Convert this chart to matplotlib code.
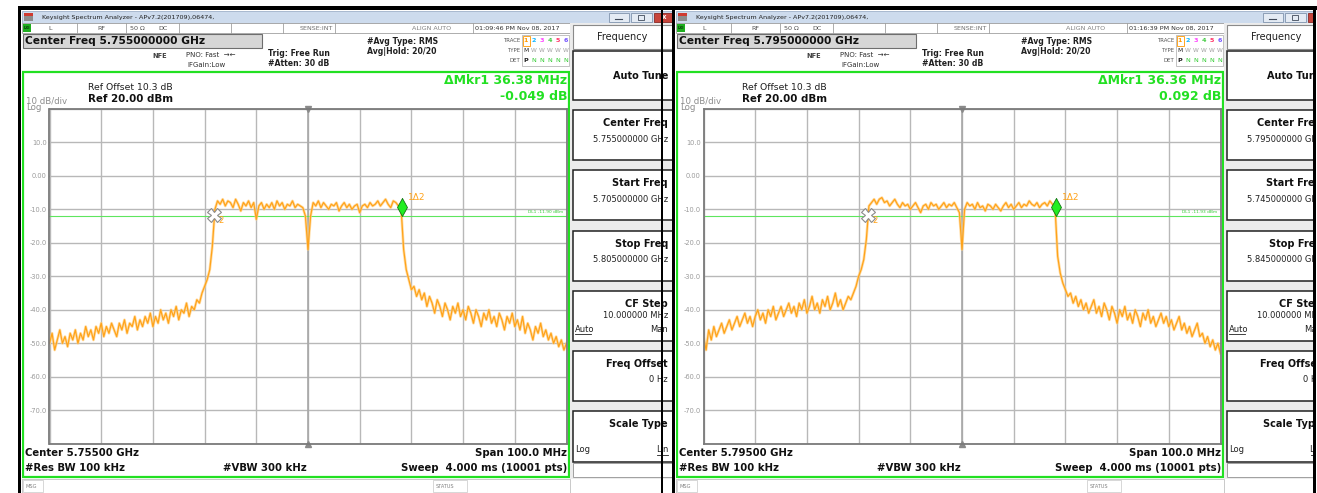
import numpy as np
import matplotlib
matplotlib.use("Agg")
import matplotlib.pyplot as plt
from matplotlib.patches import Rectangle
from matplotlib.ticker import FuncFormatter

W, H = 1317, 493
plt.rcParams['font.family'] = ['DejaVu Sans']

# ---- values ----
center_ghz = [5.755, 5.795]
start_ghz = [5.705, 5.745]
stop_ghz = [5.805, 5.845]
clock = ["01:09:46 PM Nov 08, 2017", "01:16:39 PM Nov 08, 2017"]
mkr_delta_mhz = [36.38, 36.36]
mkr_delta_db = [-0.049, 0.092]
mkr2_mhz = [-18.2, -18.2]      # reference marker, offset from center
mkr2_level = [-11.6, -11.6]
mkr1_level = [-9.2, -9.2]
dl1_dbm = [-11.90, -11.93]
y_ticks = [20, 10, 0, -10, -20, -30, -40, -50, -60, -70, -80]

# trace in dBm, -50 MHz .. +50 MHz from center, 0.5 MHz steps
trace_a = [
    -50, -47, -52, -49, -46, -50, -48, -51, -47, -49,
    -46, -50, -47, -49, -45, -48, -46, -49, -45, -47,
    -44, -48, -45, -47, -44, -46, -48, -44, -46, -43,
    -47, -44, -45, -42, -46, -43, -45, -42, -44, -41,
    -45, -42, -44, -40, -43, -41, -44, -40, -42, -39,
    -43, -40, -41, -38, -42, -39, -40, -37, -38, -35,
    -33, -31, -28, -21, -10, -7.5, -8.5, -7, -9, -7.5,
    -8, -9.5, -7, -8.5, -10.5, -8, -9, -7.5, -9.5, -8,
    -13, -9, -8, -10, -8.5, -9.5, -8, -10, -7.5, -9,
    -8, -10, -8.5, -9, -7.5, -9.5, -8.5, -9, -9.5, -12,
    -22, -12, -8, -9, -7.5, -9.5, -8, -9, -10, -8.5,
    -9, -8, -10.5, -9, -8, -9.5, -8.5, -10, -9, -8.5,
    -11, -9, -8.5, -9.5, -8, -9, -8.5, -7.5, -9, -8,
    -7, -8.5, -9.5, -7.5, -8, -9, -9.5, -22, -28, -31,
    -34, -33, -36, -34, -37, -35, -39, -36, -38, -41,
    -37, -39, -42, -38, -40, -43, -39, -41, -38, -42,
    -40, -43, -39, -41, -44, -40, -42, -45, -41, -43,
    -40, -44, -42, -45, -41, -43, -46, -42, -44, -41,
    -45, -43, -46, -42, -47, -44, -46, -49, -45, -47,
    -44, -48, -46, -49, -47, -50, -48, -51, -49, -52,
    -50,
]
trace_b = [
    -48, -52, -46, -49, -45, -48, -46, -44, -47, -45,
    -43, -46, -44, -42, -45, -43, -41, -44, -42, -45,
    -42, -40, -43, -41, -44, -40, -42, -39, -43, -41,
    -39, -42, -40, -38, -41, -39, -42, -38, -40, -37,
    -41, -39, -36, -40, -38, -41, -37, -39, -36, -40,
    -38, -35, -39, -37, -40, -38, -36, -37, -35, -33,
    -30, -28, -25, -19, -9, -8, -7, -8.5, -7, -6.5,
    -8, -7.5, -9, -8, -7, -8.5, -9.5, -8, -9, -8.5,
    -10, -9, -8, -9.5, -11, -9, -8.5, -10, -8, -9,
    -8.5, -10, -9, -8, -9.5, -8.5, -9, -8, -9.5, -11,
    -22, -10, -8, -9, -8.5, -10, -8, -9.5, -9, -10.5,
    -8.5, -9, -10, -8.5, -9.5, -10.5, -9, -8, -9.5, -8.5,
    -10, -9, -8, -9.5, -8.5, -9, -7.5, -8.5, -9, -8,
    -9.5, -8.5, -8, -9, -7.5, -8.5, -9.5, -24, -29, -32,
    -34, -36, -35, -38, -36, -39, -37, -40, -38, -41,
    -39, -37, -41, -39, -42, -38, -40, -43, -39, -41,
    -44, -40, -42, -39, -43, -41, -44, -40, -42, -45,
    -41, -43, -40, -44, -42, -45, -43, -41, -44, -42,
    -45, -43, -46, -44, -42, -46, -44, -47, -45, -48,
    -46, -44, -48, -47, -50, -48, -51, -49, -52, -50,
    -53,
]
traces = [trace_a, trace_b]

win_x = [0, 654]          # second screenshot is shifted right
clip_right = [672, 1313]  # where each screenshot is cut off

GREEN = '#22e022'
ORANGE = '#ffa31a'

fig = plt.figure(figsize=(W / 100, H / 100), dpi=100)
fig.patch.set_facecolor('white')


def chrome(i):
    o = win_x[i]
    left, right = 22 + o, clip_right[i]
    ax = fig.add_axes([left / W, 0, (right - left) / W, 1])
    ax.set_xlim(left, right)
    ax.set_ylim(H, 0)
    ax.axis('off')

    def box(x, y, w, h, fc='white', ec='none', lw=0.8):
        ax.add_patch(Rectangle((x + o, y), w, h, fc=fc, ec=ec, lw=lw))

    def txt(x, y, s, size=5, bold=False, color='#202020', ha='left'):
        ax.text(x + o, y, s, fontsize=size, fontweight='bold' if bold else 'normal',
                color=color, ha=ha, va='center', clip_on=True)

    def hline(x0, x1, y, color='#202020', lw=0.6):
        ax.plot([x0 + o, x1 + o], [y, y], color=color, lw=lw)

    # title bar
    box(22, 11, 700, 12, fc='#cddbed', ec='#9fb1c9', lw=0.6)
    box(24, 13, 9, 8, fc='#8c8c8c')
    box(24, 13, 9, 2.5, fc='#d03a30')
    txt(42, 17.2, "Keysight Spectrum Analyzer - APv7.2(201709),06474,", 4.6)
    box(609, 13, 20, 8.5, fc='#e4ebf4', ec='#8093ad', lw=0.6)
    hline(615, 622, 18.5, color='#404a5a', lw=0.8)
    box(631, 13, 21, 8.5, fc='#e4ebf4', ec='#8093ad', lw=0.6)
    box(638, 15, 6, 4.5, fc='none', ec='#404a5a', lw=0.6)
    box(654, 13, 30, 8.5, fc='#c8453c', ec='#8a2a24', lw=0.6)
    txt(664, 17, "x", 5, True, 'white', 'center')

    # status row
    box(22, 23, 548, 10, fc='white', ec='#a0a0a0', lw=0.6)
    box(22.5, 24, 8, 8, fc='#1fae1f')
    txt(26.5, 28, "LXI", 2.6, True, '#0a3a0a', 'center')
    for sx in [77, 126, 179, 231, 283, 335, 473]:
        ax.plot([sx + o, sx + o], [23, 33], color='#a0a0a0', lw=0.6)
    for sx, s in [(50, "L"), (101, "RF"), (137, "50 \u03a9"), (163, "DC")]:
        txt(sx, 28.3, s, 4.6, color='#505050', ha='center')
    txt(333, 28.3, "SENSE:INT", 4.6, color='#707070', ha='right')
    txt(432, 28.3, "ALIGN AUTO", 4.6, color='#808080', ha='center')
    txt(475, 28.3, clock[i], 4.6, color='#303030')

    # header
    box(23, 34, 239, 14, fc='#d6d6d6', ec='#6e6e6e', lw=0.8)
    txt(25, 41.3, f"Center Freq {center_ghz[i]:.9f} GHz", 7.7, True, '#101010')
    txt(152, 56, "NFE", 4.8, True, '#404040')
    txt(186, 55, "PNO: Fast  \u2192\u2190", 5, color='#303030')
    txt(187, 65, "IFGain:Low", 5, color='#303030')
    txt(268, 53, "Trig: Free Run", 5.6, True)
    txt(268, 64, "#Atten: 30 dB", 5.6, True)
    txt(367, 42, "#Avg Type: RMS", 5.6, True)
    txt(367, 52, "Avg|Hold: 20/20", 5.6, True)
    txt(520, 41, "TRACE", 3.9, color='#555555', ha='right')
    txt(520, 51, "TYPE", 3.9, color='#555555', ha='right')
    txt(520, 60, "DET", 3.9, color='#555555', ha='right')
    box(522, 35, 47, 31, fc='none', ec='#b8b8b8', lw=0.6)
    box(523, 36, 6.5, 9.5, fc='none', ec='#ff9900', lw=0.6)
    trace_cols = ['#ff9900', '#10b8ff', '#ff44ff', '#44cc44', '#ff3366', '#7755ff']
    for k, c in enumerate(trace_cols):
        tx = 526 + 8 * k
        txt(tx, 41, str(k + 1), 4.6, True, c, 'center')
        txt(tx, 51, "M" if k == 0 else "W", 4.2, False, '#202020' if k == 0 else '#a0a0a0', 'center')
        txt(tx, 60, "P" if k == 0 else "N", 4.6, k == 0, '#202020' if k == 0 else '#33cc33', 'center')

    # measurement area
    box(22.8, 72, 546, 405, fc='none', ec=GREEN, lw=1.6)
    txt(88, 88, "Ref Offset 10.3 dB", 6.7)
    txt(88, 99.5, "Ref 20.00 dBm", 7.4, True, '#101010')
    txt(26, 101, "10 dB/div", 6.2, color='#8c8c8c')
    txt(26, 107.5, "Log", 6.2, color='#8c8c8c')
    txt(567, 81, f"\u0394Mkr1 {mkr_delta_mhz[i]:.2f} MHz", 9, True, GREEN, 'right')
    txt(567, 97, f"{mkr_delta_db[i]:.3f} dB", 9, True, GREEN, 'right')
    txt(25, 453, f"Center {center_ghz[i]:.5f} GHz", 7.3, True, '#101010')
    txt(25, 468, "#Res BW 100 kHz", 7.3, True, '#101010')
    txt(223, 468, "#VBW 300 kHz", 7.3, True, '#101010')
    txt(567, 453, "Span 100.0 MHz", 7.3, True, '#101010', 'right')
    txt(567, 468, "Sweep  4.000 ms (10001 pts)", 7.3, True, '#101010', 'right')

    # message bar
    box(22, 479, 548, 14, fc='white', ec='#c0c0c0', lw=0.6)
    box(23, 480, 20, 12, fc='white', ec='#c8c8c8', lw=0.5)
    txt(25, 487, "MSG", 3.6, color='#808080')
    box(433, 480, 34, 12, fc='white', ec='#c8c8c8', lw=0.5)
    txt(436, 487, "STATUS", 3.6, color='#808080')

    # softkey panel
    box(570, 23, 130, 456, fc='#ececec')
    box(573, 25, 130, 24, fc='white', ec='#8a8a8a', lw=0.8)
    txt(622, 37, "Frequency", 7, ha='center')
    keys = [
        (51, 49, "Auto Tune", None),
        (110, 50, "Center Freq", f"{center_ghz[i]:.9f} GHz"),
        (170, 50, "Start Freq", f"{start_ghz[i]:.9f} GHz"),
        (231, 50, "Stop Freq", f"{stop_ghz[i]:.9f} GHz"),
        (291, 50, "CF Step", "10.000000 MHz"),
        (351, 50, "Freq Offset", "0 Hz"),
        (411, 51, "Scale Type", None),
    ]
    for top, h, label, value in keys:
        box(573, top, 130, h, fc='white', ec='#202020', lw=1.1)
        if label == "Auto Tune":
            txt(668, top + 25, label, 7, True, '#101010', 'right')
        else:
            txt(668, top + 13, label, 7, True, '#101010', 'right')
        if value is not None:
            txt(668, top + 29 if label != "CF Step" else top + 25, value, 6, color='#202020', ha='right')
    txt(575, 329, "Auto", 6)
    hline(575, 591, 333.5, lw=0.6)
    txt(668, 329, "Man", 6, ha='right')
    txt(575, 450, "Log", 6)
    txt(668, 450, "Lin", 6, ha='right')
    hline(657, 668, 454.5, lw=0.6)
    box(573, 463, 130, 14, fc='white', ec='#a0a0a0', lw=0.7)
    return ax


def spectrum(i):
    o = win_x[i]
    ax = fig.add_axes([(49.5 + o) / W, 1 - 443.8 / H, 517 / W, 335 / H])
    f = np.linspace(-50, 50, len(traces[i]))
    ax.set_xlim(-50, 50)
    ax.set_ylim(y_ticks[-1], y_ticks[0])
    ax.set_xticks(np.arange(-50, 51, 10))
    ax.set_yticks(y_ticks)
    ax.grid(color='#b8b8b8', lw=1.0)
    ax.axvline(0, color='#a8a8a8', lw=1.2)
    ax.tick_params(length=0, labelbottom=False, labelsize=4.8,
                   labelcolor='#9a9a9a', pad=2)
    ax.yaxis.set_major_formatter(FuncFormatter(
        lambda v, p: '' if v in (y_ticks[0], y_ticks[-1]) else ('0.00' if v == 0 else f'{v:.1f}')))
    for s in ax.spines.values():
        s.set_color('#7a7a7a')
        s.set_linewidth(1.3)

    ax.axhline(dl1_dbm[i], color='#5ee65e', lw=0.8)
    ax.text(49.3, dl1_dbm[i] + 0.4, f"DL1 {dl1_dbm[i]:.2f} dBm", fontsize=3.2,
            color='#33cc33', ha='right', va='bottom')

    ax.plot(f, traces[i], color='#ffcf80', lw=2.0, alpha=0.7)
    ax.plot(f, traces[i], color=ORANGE, lw=0.9)

    m2 = mkr2_mhz[i]
    m1 = m2 + mkr_delta_mhz[i]
    ax.plot([m2], [mkr2_level[i]], marker='X', ms=10, mfc='white', mec='#8a8a8a', mew=0.8)
    ax.text(m2 + 0.9, mkr2_level[i] - 1.8, "2", fontsize=6, color=ORANGE, va='center')
    diamond = [(0, 1), (0.55, 0), (0, -1), (-0.55, 0), (0, 1)]
    ax.plot([m1], [mkr1_level[i]], marker=diamond, ms=13, mfc='#22ee22', mec='#117711', mew=0.6)
    ax.text(m1 + 1.2, mkr1_level[i] + 1.5, "1\u03942", fontsize=6.5, color=ORANGE, va='bottom')

    ax.plot([0], [y_ticks[0]], marker='v', ms=4, color='#8a8a8a', clip_on=False)
    ax.plot([0], [y_ticks[-1]], marker='^', ms=4, color='#8a8a8a', clip_on=False)
    return ax


for i in range(2):
    chrome(i)
    spectrum(i)

# black frame lines of the page the screenshots sit in
ov = fig.add_axes([0, 0, 1, 1])
ov.set_xlim(0, W)
ov.set_ylim(H, 0)
ov.axis('off')
for x, y, w, h in [(18, 6, 1299, 4), (18, 6, 3, 487), (660.5, 6, 2.5, 487),
                   (672, 6, 2.5, 487), (1313, 6, 2.5, 487)]:
    ov.add_patch(Rectangle((x, y), w, h, fc='black', ec='none'))

fig.savefig('out.png', dpi=100)
